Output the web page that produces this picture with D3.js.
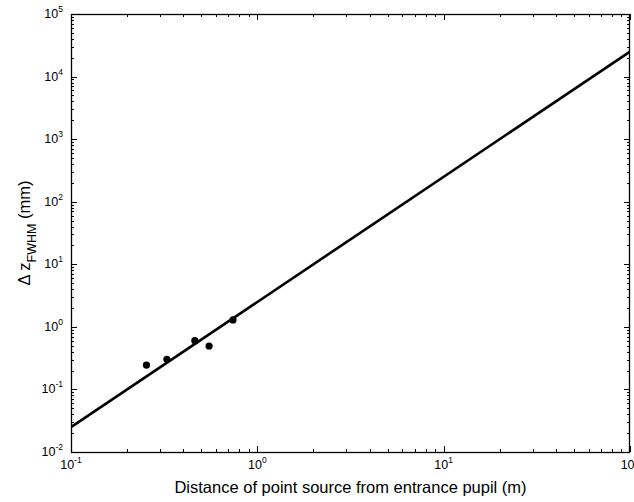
<!DOCTYPE html>
<html>
<head>
<meta charset="utf-8">
<script src="https://cdn.jsdelivr.net/npm/d3@7.9.0/dist/d3.min.js"></script>
<style>
  body { margin: 0; background: #fff; }
  svg { display: block; font-family: "Liberation Sans", Arial, Helvetica, sans-serif; }
</style>
</head>
<body>
<svg width="634" height="502"></svg>
<script>
// measured points
const distM = [0.254, 0.327, 0.462, 0.551, 0.740];
const dzMm = [0.245, 0.303, 0.601, 0.494, 1.29];

// fitted line (quadratic)
const fitX = [0.1, 100];
const fitY = [0.025, 25000];

const xDomain = [0.1, 100];
const yDomain = [0.01, 100000];

const margin = { left: 71, right: 4, top: 14, bottom: 50 };
const width = 634, height = 502;

const svg = d3.select("svg");

let x = d3.scaleLog().domain(xDomain).range([margin.left, width - margin.right]);
let y = d3.scaleLog().domain(yDomain).range([height - margin.bottom, margin.top]);

const x0 = x.range()[0], x1 = x.range()[1];
const y0 = y.range()[0], y1 = y.range()[1];

let isMajor = (v) => Math.abs(Math.log10(v) - Math.round(Math.log10(v))) < 1e-9;

// ticks, all inward, mirrored on top and right
let g = svg.append("g").attr("stroke", "#000").attr("stroke-width", 1);
x.ticks().forEach((v) => {
  let px = Math.round(x(v)) + 0.5;
  let len = isMajor(v) ? 6 : 3;
  g.append("line").attr("x1", px).attr("x2", px).attr("y1", y0).attr("y2", y0 - len);
  g.append("line").attr("x1", px).attr("x2", px).attr("y1", y1).attr("y2", y1 + len);
});
y.ticks().forEach((v) => {
  let py = Math.round(y(v)) + 0.5;
  let len = isMajor(v) ? 6 : 3;
  g.append("line").attr("x1", x0).attr("x2", x0 + len).attr("y1", py).attr("y2", py);
  g.append("line").attr("x1", x1).attr("x2", x1 - len).attr("y1", py).attr("y2", py);
});

// fit line, clipped to the frame
svg.append("clipPath").attr("id", "clip")
  .append("rect").attr("x", x0).attr("y", y1).attr("width", x1 - x0).attr("height", y0 - y1);

let line = d3.line().x((d, i) => x(fitX[i])).y((d, i) => y(fitY[i]));
svg.append("path")
  .attr("clip-path", "url(#clip)")
  .attr("d", line(fitX))
  .attr("fill", "none")
  .attr("stroke", "#000")
  .attr("stroke-width", 2.6);

// points
svg.append("g").selectAll("circle")
  .data(distM)
  .join("circle")
  .attr("cx", (d) => x(d))
  .attr("cy", (d, i) => y(dzMm[i]))
  .attr("r", 3.6)
  .attr("fill", "#000");

// frame
svg.append("rect")
  .attr("x", x0 + 0.5).attr("y", y1 + 0.5)
  .attr("width", x1 - x0 - 1).attr("height", y0 - y1)
  .attr("fill", "none").attr("stroke", "#000").attr("stroke-width", 1.3);

// tick labels: 10^n
function powLabel(sel, exp) {
  sel.append("tspan").text("10");
  sel.append("tspan").attr("dy", -6).attr("font-size", 8.5).text(exp);
}
x.ticks().filter(isMajor).forEach((v) => {
  let t = svg.append("text")
    .attr("x", x(v)).attr("y", y0 + 17)
    .attr("text-anchor", "middle").attr("font-size", 12.5);
  powLabel(t, Math.round(Math.log10(v)));
});
y.ticks().filter(isMajor).forEach((v) => {
  let t = svg.append("text")
    .attr("x", x0 - 8).attr("y", y(v) + 4)
    .attr("text-anchor", "end").attr("font-size", 12.5);
  powLabel(t, Math.round(Math.log10(v)));
});

// axis titles
svg.append("text")
  .attr("x", (x0 + x1) / 2).attr("y", 493)
  .attr("text-anchor", "middle").attr("font-size", 16.5)
  .text("Distance of point source from entrance pupil (m)");

let yt = svg.append("text")
  .attr("transform", `translate(30,${(y0 + y1) / 2}) rotate(-90)`)
  .attr("text-anchor", "middle").attr("font-size", 16.5);
yt.append("tspan").text("\u0394 z");
yt.append("tspan").attr("dy", 6).attr("font-size", 12.5).text("FWHM");
yt.append("tspan").attr("dy", -6).text(" (mm)");
</script>
</body>
</html>
